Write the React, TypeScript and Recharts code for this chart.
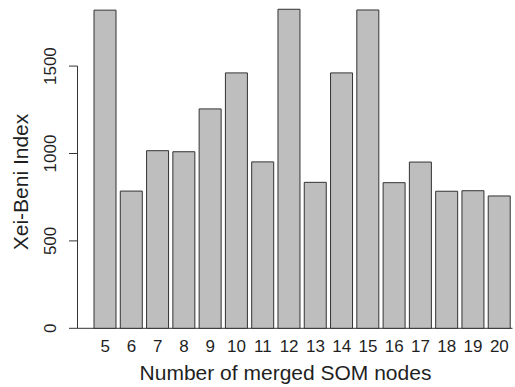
import React from 'react';
import { BarChart, Bar, XAxis, YAxis, ReferenceArea } from 'recharts';

const categories = ['5', '6', '7', '8', '9', '10', '11', '12', '13', '14', '15', '16', '17', '18', '19', '20'];
const xeiBeniValues = [1820, 785, 1016, 1010, 1255, 1461, 952, 1825, 835, 1461, 1821, 833, 951, 784, 787, 757];
const yTicks = [0, 500, 1000, 1500];

const data = categories.map((c, i) => ({ node: c, value: xeiBeniValues[i] }));

const FONT = '"Liberation Sans", Arial, Helvetica, sans-serif';
const INK = '#1f1f1f';
const LINE = '#333';
const X_PAD_LEFT = 14.5;

const YTick = (props: any) => {
  const { x, y, payload } = props;
  const bx = x - 13;
  return (
    <text
      x={bx}
      y={y}
      transform={`rotate(-90, ${bx}, ${y})`}
      textAnchor="middle"
      fontSize={17}
      fontFamily={FONT}
      fill={INK}
    >
      {payload.value}
    </text>
  );
};

const XTick = (props: any) => {
  const { x, y, payload } = props;
  return (
    <text x={x} y={y + 24} textAnchor="middle" fontSize={17} fontFamily={FONT} fill={INK}>
      {payload.value}
    </text>
  );
};

// Draws the R-style y-axis spine (0..1500) and the zero baseline across the plot.
const AxisSpine = (props: any) => {
  const { x, y, width, height } = props;
  const left = x - X_PAD_LEFT;
  const bottom = y + height;
  return (
    <g>
      <line x1={left} y1={y} x2={left} y2={bottom} stroke={LINE} strokeWidth={1} />
      <line x1={left} y1={bottom} x2={x + width} y2={bottom} stroke={LINE} strokeWidth={1} />
    </g>
  );
};

export default function App() {
  return (
    <div style={{ position: 'absolute', left: 0, top: 0, width: 515, height: 387, background: '#fff' }}>
      <BarChart
        width={515}
        height={387}
        data={data}
        margin={{ top: 4.9, right: 2.5, left: 0, bottom: 0 }}
      >
        <XAxis
          xAxisId="c"
          dataKey="node"
          type="category"
          padding={{ left: X_PAD_LEFT, right: 0 }}
          axisLine={false}
          tickLine={false}
          tickSize={0}
          tickMargin={0}
          height={58.7}
          interval={0}
          tick={<XTick />}
          label={{
            content: () => (
              <text x={285.5} y={380} textAnchor="middle" fontSize={21} fontFamily={FONT} fill={INK}>
                Number of merged SOM nodes
              </text>
            ),
          }}
        />
        <YAxis
          domain={[0, 1850]}
          ticks={yTicks}
          width={77.5}
          axisLine={false}
          tickLine={{ stroke: LINE, strokeWidth: 1 }}
          tickSize={8.5}
          tickMargin={0}
          interval={0}
          tick={<YTick />}
          label={{
            content: () => (
              <text
                x={28.3}
                y={182}
                transform="rotate(-90, 28.3, 182)"
                textAnchor="middle"
                fontSize={21}
                fontFamily={FONT}
                fill={INK}
              >
                Xei-Beni Index
              </text>
            ),
          }}
        />
        <Bar
          xAxisId="c"
          dataKey="value"
          fill="#bebebe"
          stroke={LINE}
          strokeWidth={1}
          barSize={22}
          isAnimationActive={false}
        />
        <ReferenceArea
          xAxisId="c"
          y1={yTicks[0]}
          y2={yTicks[yTicks.length - 1]}
          ifOverflow="visible"
          shape={<AxisSpine />}
        />
      </BarChart>
    </div>
  );
}
